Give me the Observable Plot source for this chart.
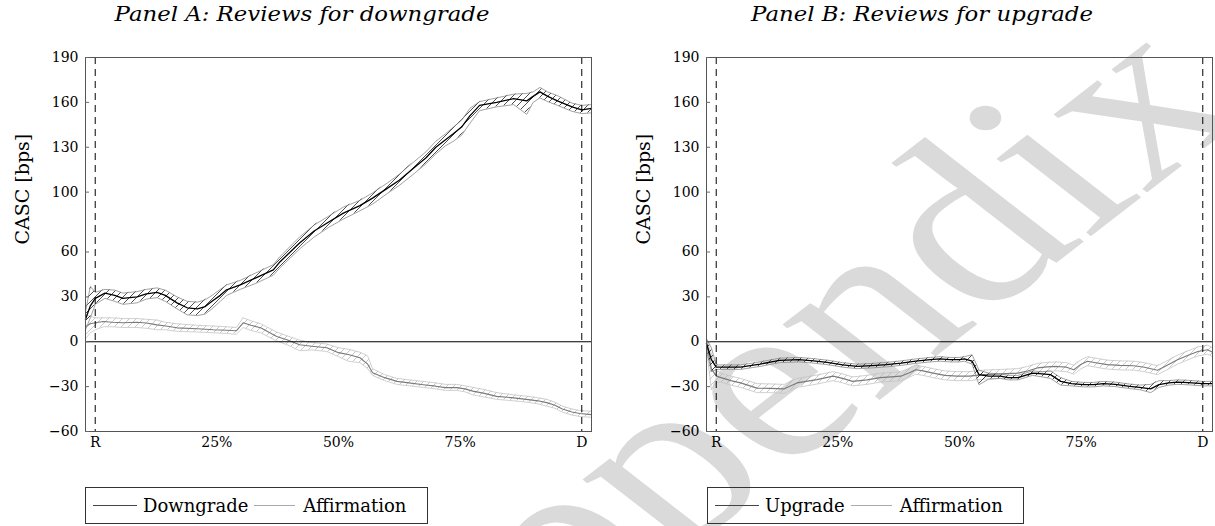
<!DOCTYPE html>
<html><head><meta charset="utf-8">
<script src="https://cdn.jsdelivr.net/npm/d3@7"></script>
<script src="https://cdn.jsdelivr.net/npm/@observablehq/plot@0.6"></script>
<style>
body{margin:0;background:#fff;}
#wrap{position:relative;width:1215px;height:526px;overflow:hidden;font-family:"DejaVu Serif",serif;color:#000;}
.panel{position:absolute;top:0;}
.title{position:absolute;top:4px;font-style:italic;font-size:20px;line-height:20px;white-space:nowrap;transform:translateX(-50%) scaleX(1.14);}
.legend{position:absolute;top:487px;height:37px;border:1px solid #333;box-sizing:border-box;display:flex;align-items:center;font-size:18px;padding-left:7px;white-space:nowrap;}
.legend .sw{display:inline-block;height:1.4px;}
</style></head>
<body>
<div id="wrap">
<svg width="1215" height="526" style="position:absolute;left:0;top:0">
  <defs>
    <pattern id="hatchK" patternUnits="userSpaceOnUse" width="7" height="7">
      <path d="M-1,1 l2,-2 M0,7 l7,-7 M6,8 l2,-2" stroke="#000" stroke-width="0.7"/>
    </pattern>
    <pattern id="hatchG" patternUnits="userSpaceOnUse" width="7" height="7">
      <path d="M-1,1 l2,-2 M0,7 l7,-7 M6,8 l2,-2" stroke="#b0b0b0" stroke-width="0.7"/>
    </pattern>
  </defs>
  <g transform="translate(1251,112) scale(1.29,1) rotate(-45)">
    <text text-anchor="end" font-family="Liberation Serif" font-size="232" fill="#dadada">Appendix</text>
  </g>
</svg>
<div id="pA" class="panel" style="left:0"></div>
<div id="pB" class="panel" style="left:620px"></div>
<div class="title" style="left:302px">Panel A: Reviews for downgrade</div>
<div class="title" style="left:922px">Panel B: Reviews for upgrade</div>
<div class="legend" style="left:85px;width:343px">
  <span class="sw" style="width:44px;background:#444"></span><span style="margin-left:6px">Downgrade</span>
  <span class="sw" style="width:41px;background:#aaa;margin-left:6px"></span><span style="margin-left:8px">Affirmation</span>
</div>
<div class="legend" style="left:707px;width:317px">
  <span class="sw" style="width:44px;background:#444"></span><span style="margin-left:6px">Upgrade</span>
  <span class="sw" style="width:41px;background:#aaa;margin-left:6px"></span><span style="margin-left:8px">Affirmation</span>
</div>
</div>
<script>
// ---- axes ----
const xTicks = [0, 25, 50, 75, 100];
const xTickLabels = ["R", "25%", "50%", "75%", "D"];
const yTicks = [-60, -30, 0, 30, 60, 100, 130, 160, 190];
const eventLines = [0, 100];
const yLabel = "CASC [bps]";

// ---- Panel A: Downgrade ----
const downX  = [-2,-1,0,2,4,5.7,8.6,10.5,12.7,14.4,16.8,18.9,21,22.6,24,25.7,27,29.8,33,36.6,38,42,45,48,51,54.4,57,60,62.5,65.4,68,70,72,73.6,75.3,77,79,82.5,86,88.7,90,91.4,93,95,98,100,102];
const downY  = [15,24,29,32.5,31,29,30,32,33,31,26,22.7,22,23.5,27,31,34.7,38,42.7,48,53.5,66,74,80,86,91,96,102.5,108,116,123,130,135,139,143.5,151,158,160,162.5,161,164,167,164,161,157,155,156];
const downLo = [8,16,25,29,27,25,26,28.5,29.5,27,22,18,17.5,18.5,22,27,31,35,39,44.5,49.5,62,70,76.5,82,87.5,92,99,104.5,112,119,125.5,131,134,138,146,154.5,157,158.5,152,160,163,160.5,158,154,152.5,153];
const downHi = [20,37,33,35,34.5,32.5,33.5,35,36,34.5,30,27,26.5,28,31,35,38,41,46,51.5,57,70,78,84,90,94.5,99.5,106,112,120,127,134,139,143.5,148,156,160.5,163,165.5,166,167,170,167,164.5,159.5,158,158.5];

// ---- Panel A: Affirmation ----
const affAX  = [-2,-1,0,1.7,3.5,5.7,8.6,10.5,12.7,14.5,16.8,21,24.3,27,29,30.4,32,34,37.3,39.4,42,44.5,47.6,50,52,54.4,56,57,59.5,62,64.5,67.4,70,72,74.3,76,77.6,80,82.5,86,89,91,92.8,94.5,96,98,99.6,102];
const affAY  = [10,12,12.7,13.5,13,12.7,13,12.5,11.3,10.5,9.3,8.7,8,7.7,7.3,12.7,11,9.3,3.5,1.3,-2,-3,-4,-7.3,-8.5,-10.7,-15,-20.7,-24,-26.5,-27.5,-28.7,-29.7,-30.7,-30.7,-31.5,-33,-34.5,-36.5,-37.5,-38.7,-39.5,-40.7,-42.5,-45,-47,-48,-48.7];
const affALo = [2,6,8,10,10,9.5,9.5,9,8,8,7,6.5,6,5.5,5,9.5,7.5,6,0.5,-2,-6,-5.5,-6.5,-10,-13,-14,-18,-22.5,-26,-28.5,-29.5,-30.5,-31.5,-32.5,-32.5,-33.5,-35.5,-37,-38.5,-39.5,-40.5,-41.5,-43,-44.5,-47,-49,-50,-50.5];
const affAHi = [18,17,16,16,16,15.5,15.5,15,14.5,13,12,11,10.5,10,9.5,16,14,12,6.5,4,1,-0.5,-1.5,-4,-5,-7,-9.5,-18,-22,-24.5,-25.5,-26.5,-27.5,-28.5,-28.5,-29.5,-30.5,-32,-34,-35.5,-36.5,-37.5,-38.5,-40.5,-43,-45,-46,-46.5];

// ---- Panel B: Upgrade ----
const upX  = [-2,-1,0,2,5,9,13,17,20,22.8,26,29,32,35,38,41,44,46,48,50,51,52.6,54,56,58.4,60,62,63.5,65,67,68.7,70.8,73,75.5,77.5,79.6,82,85,87,89.3,91,93,94.8,97,100,102];
const upY  = [-1,-12,-17,-17,-17,-15,-12.4,-12,-12.8,-13.8,-15.5,-16.5,-16,-15.3,-14.3,-13,-12,-11.5,-12,-12,-11.5,-13,-22,-23,-23,-24,-24,-22.5,-21,-21.5,-22,-26.5,-28,-28.7,-28.7,-28,-28.5,-29.8,-30.5,-31.5,-28.7,-27.5,-27,-27.3,-28,-28];
const upLo = [-5,-20,-18.5,-18.5,-18.5,-16.5,-14,-13.5,-14.3,-15.3,-17,-18,-17.5,-16.8,-15.8,-14.5,-13.5,-13,-13.5,-13.5,-13,-15,-28.7,-25,-24.5,-25.5,-25.5,-24,-22.5,-23.5,-24.5,-29,-29.5,-30.2,-30.2,-29.5,-30,-31.3,-32,-34,-30.5,-29,-28.5,-28.8,-29.5,-29.5];
const upHi = [2,-4,-15.5,-15.5,-15.5,-13.5,-11,-10.5,-11.3,-12.3,-14,-15,-14.5,-13.8,-12.8,-11.5,-10.5,-10,-10.5,-10.5,-10,-8.7,-19,-21,-21.5,-22.5,-22.5,-21,-19.5,-20,-19.5,-24,-26.5,-27.2,-27.2,-26.5,-27,-28.3,-29,-28.5,-26,-26,-25.5,-25.8,-26.5,-26.5];

// ---- Panel B: Affirmation ----
const affBX  = [-2,-1,0,1,3,5,8.4,11,14,16.6,18.5,20.7,24,26,28,31,33.7,36,37.9,39.5,41,42.5,44.6,47,49.5,52,55,58.5,62,64,66,68,70,72,73.5,75,76.3,78,80.4,83,85.8,88,90.7,92.5,94.8,97,99,101,102];
const affBY  = [-1,-18,-23,-24,-26,-27.5,-31,-31.2,-31.5,-27.5,-26.5,-25.3,-23,-24.5,-26.5,-25.5,-24,-23.5,-23,-21,-18.7,-19.5,-21,-22.5,-23,-23,-22,-21.5,-21,-19.5,-17.5,-16.8,-16.5,-17,-18.7,-15,-13,-14,-15.3,-15.8,-16,-17,-19,-16,-12,-9,-6.5,-5.3,-7];
const affBLo = [-4,-32,-27,-27,-29,-30.5,-34,-34,-34.5,-30.5,-29.5,-28.3,-26,-27.5,-29.5,-28.5,-27,-26.5,-26,-24,-21.7,-22.5,-24,-25.5,-26,-26,-25,-24.5,-24,-22.5,-20.5,-19.8,-19.5,-20,-21.7,-18,-16,-17,-18.3,-18.8,-19,-20,-22,-19,-15,-12,-9.5,-8.3,-10];
const affBHi = [2,-8,-19,-21,-23,-24.5,-28,-28.2,-28.5,-24.5,-23.5,-22.3,-20,-21.5,-23.5,-22.5,-21,-20.5,-20,-18,-15.7,-16.5,-18,-19.5,-20,-20,-19,-18.5,-18,-16.5,-14.5,-13.8,-13.5,-14,-15.7,-12,-10,-11,-12.3,-12.8,-13,-14,-16,-13,-9,-6,-3.5,-2.3,-4];

function table(xs, ys, los, his) {
  return xs.map((x, i) => ({x, y: ys[i], lo: los[i], hi: his[i]}));
}

function bandMarks(data, dark) {
  return [
    Plot.areaY(data, {x: "x", y1: "lo", y2: "hi", fill: dark ? "url(#hatchK)" : "url(#hatchG)"}),
    Plot.lineY(data, {x: "x", y: "lo", stroke: dark ? "#8a8a8a" : "#c4c4c4", strokeWidth: 0.8}),
    Plot.lineY(data, {x: "x", y: "hi", stroke: dark ? "#8a8a8a" : "#c4c4c4", strokeWidth: 0.8}),
    Plot.lineY(data, {x: "x", y: "y", stroke: dark ? "#000" : "#7a7a7a", strokeWidth: dark ? 1.3 : 1.1})
  ];
}

function panel(mainData, affData, width, marginLeft, marginRight) {
  return Plot.plot({
    width, height: 460,
    marginLeft, marginRight, marginTop: 57, marginBottom: 29,
    style: {background: "transparent", fontFamily: "DejaVu Serif", fontSize: "14px", color: "#000", overflow: "visible"},
    x: {domain: [-2, 102]},
    y: {domain: [-60, 190]},
    marks: [
      ...bandMarks(affData, false),
      ...bandMarks(mainData, true),
      Plot.ruleY([0], {stroke: "#000", strokeWidth: 1.1}),
      Plot.ruleX(eventLines, {stroke: "#000", strokeWidth: 1, strokeDasharray: "7,5"}),
      Plot.frame({stroke: "#555", strokeWidth: 1}),
      Plot.axisX({ticks: xTicks, tickFormat: (d) => xTickLabels[xTicks.indexOf(d)], tickSize: 0, tickPadding: 6, label: null}),
      Plot.axisY({ticks: yTicks, tickFormat: (d) => d < 0 ? "\u2212" + Math.abs(d) : String(d), tickSize: -4, tickPadding: 11, stroke: "#666", label: null}),
      Plot.text([yLabel], {frameAnchor: "left", rotate: -90, dx: -63, fontSize: 19})
    ]
  });
}

document.getElementById("pA").appendChild(
  panel(table(downX, downY, downLo, downHi), table(affAX, affAY, affALo, affAHi), 600, 85, 9));
document.getElementById("pB").appendChild(
  panel(table(upX, upY, upLo, upHi), table(affBX, affBY, affBLo, affBHi), 595, 86, 3));
</script>
</body></html>
